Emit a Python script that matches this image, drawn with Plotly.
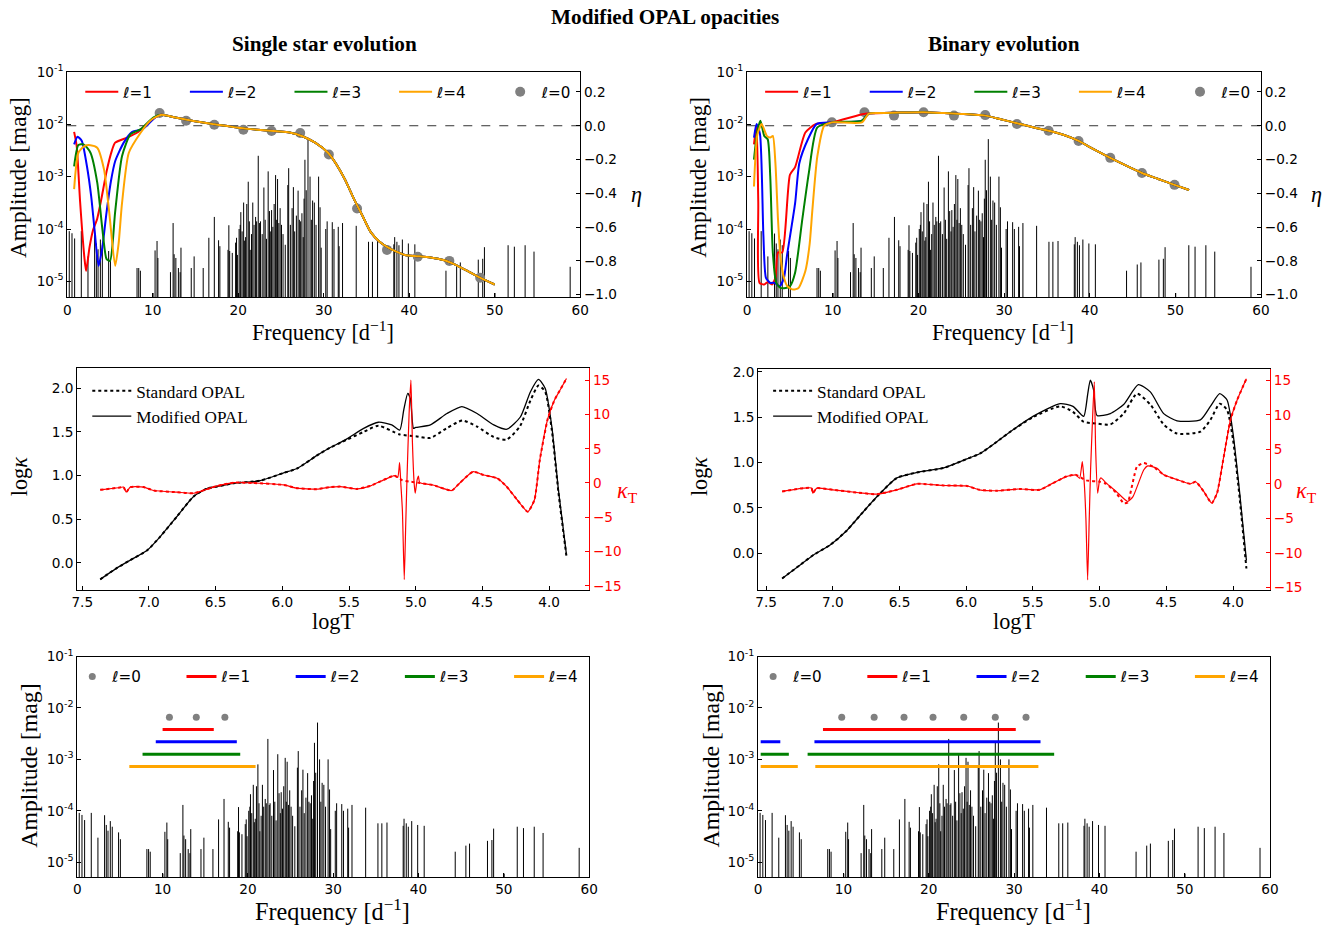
import plotly.graph_objects as go

W, H = 1336, 928

# ---------------- observed spectrum (shared by the four spectrum panels) -------------
obs_freq = [0.23, 0.55, 0.86, 1.64, 2.42, 3.20, 3.40, 3.60, 3.87, 4.10,
            4.84, 5.05, 8.16, 8.36, 8.55, 10.04, 10.27, 10.50, 10.60, 12.07,
            12.38, 12.50, 12.70, 13.00, 13.20, 13.30, 14.50, 14.84, 15.90, 16.56,
            17.20, 17.70, 17.85, 18.80, 18.90, 19.00, 19.30, 19.69, 19.80, 19.90,
            20.10, 20.23, 20.30, 20.45, 20.63, 20.75, 20.86, 21.00, 21.17, 21.30,
            21.40, 21.55, 21.70, 21.85, 22.03, 22.15, 22.34, 22.50, 22.60, 22.80,
            23.00, 23.15, 23.30, 23.50, 23.65, 23.80, 23.90, 24.05, 24.20, 24.37,
            24.50, 24.60, 24.75, 24.90, 25.06, 25.24, 25.50, 25.80, 25.90, 26.10,
            26.30, 26.45, 26.60, 26.80, 27.00, 27.15, 27.30, 27.45, 27.60, 27.70,
            27.80, 27.95, 28.16, 28.40, 28.55, 28.70, 28.90, 29.10, 29.40, 29.57,
            29.70, 30.24, 30.40, 31.00, 31.20, 31.70, 31.80, 32.20, 33.80, 35.24,
            35.70, 36.30, 38.20, 38.30, 38.56, 38.80, 39.20, 39.90, 40.66, 44.30,
            45.55, 45.98, 48.08, 48.60, 48.80, 50.04, 51.57, 52.30, 53.56, 54.60,
            58.83]
obs_amp = [9.1e-5, 8.3e-5, 6.6e-5, 9.1e-5, 3.0e-5, 8.2e-5, 5.3e-5, 4.1e-5, 6.3e-5, 4.9e-5,
           3.8e-5, 2.8e-5, 1.8e-5, 1.8e-5, 1.6e-5, 6.0e-6, 3.9e-5, 5.9e-5, 2.8e-5, 1.5e-5,
           1.3e-4, 3.3e-5, 2.8e-5, 1.8e-5, 1.5e-5, 4.4e-5, 1.8e-5, 3.0e-5, 1.8e-5, 6.8e-5,
           1.7e-4, 6.1e-5, 4.7e-5, 4.0e-5, 1.18e-4, 3.8e-5, 3.5e-5, 5.5e-5, 6.8e-5, 3.2e-5,
           1.0e-4, 1.2e-4, 2.1e-4, 9.0e-5, 3.2e-4, 6.0e-5, 7.0e-5, 3.0e-4, 8.0e-4, 1.4e-4,
           4.0e-5, 8.0e-5, 3.2e-4, 1.2e-4, 1.7e-4, 1.4e-4, 2.5e-3, 1.3e-4, 1.4e-4, 8.0e-5,
           6.2e-4, 1.5e-4, 6.5e-5, 1.26e-3, 2.2e-4, 9.0e-5, 2.3e-4, 1.1e-4, 3.0e-4, 1.07e-3,
           1.5e-4, 9.0e-4, 1.3e-4, 2.5e-4, 1.2e-4, 8.0e-5, 5.0e-5, 6.9e-4, 1.45e-3, 1.2e-4,
           2.5e-4, 6.3e-4, 9.0e-5, 1.8e-4, 5.4e-4, 1.5e-4, 1.4e-4, 2.0e-4, 7.0e-5, 3.8e-4,
           2.1e-3, 5.5e-4, 5.2e-3, 1.0e-3, 1.5e-4, 3.5e-4, 3.2e-4, 1.2e-4, 1.0e-3, 2.6e-4,
           4.4e-5, 1.0e-4, 1.4e-4, 1.35e-4, 1.0e-4, 1.1e-4, 4.7e-5, 1.3e-4, 1.15e-4, 5.7e-5,
           5.7e-5, 5.9e-5, 5.1e-5, 7.0e-5, 5.7e-5, 4.9e-5, 6.3e-5, 5.3e-5, 5.1e-5, 1.6e-5,
           2.1e-5, 2.3e-5, 2.6e-5, 2.7e-5, 4.5e-5, 6.0e-6, 4.9e-5, 4.6e-5, 4.9e-5, 3.7e-5,
           1.9e-5]

# ---------------- single star: growth rate eta ----------------
s_l0_freq = [10.8, 13.9, 17.2, 20.6, 23.9, 27.25, 30.6, 33.9, 37.4, 41.0, 44.7, 48.3]
s_l0_eta = [0.075, 0.03, 0.006, -0.024, -0.031, -0.043, -0.17, -0.49, -0.735, -0.775, -0.80, -0.90]

s_tail_freq = [11.0, 12.5, 14.0, 15.5, 17.0, 18.5, 20.0, 21.5, 23.0, 24.5, 26.0, 27.5, 29.0,
               30.5, 31.5, 32.5, 33.5, 34.5, 35.5, 36.5, 37.5, 38.5, 39.5, 41.0, 42.5, 44.0,
               45.5, 47.0, 48.5, 50.0]
s_tail_eta = [0.065, 0.05, 0.035, 0.022, 0.01, 0.0, -0.012, -0.02, -0.027, -0.033, -0.04,
              -0.062, -0.1, -0.16, -0.23, -0.32, -0.43, -0.53, -0.63, -0.685, -0.72, -0.745,
              -0.765, -0.772, -0.78, -0.795, -0.825, -0.865, -0.905, -0.94]

s_l1_freq = [0.8, 1.1, 1.5, 2.0, 2.2, 2.6, 3.0, 3.5, 4.0, 4.6, 5.2, 5.6, 7.0, 8.2, 9.3, 10.3]
s_l1_eta = [-0.036, -0.12, -0.45, -0.78, -0.86, -0.72, -0.62, -0.55, -0.43, -0.27, -0.15,
            -0.10, -0.07, -0.04, 0.01, 0.05]
s_l2_freq = [0.8, 1.2, 1.7, 2.3, 2.8, 3.2, 3.66, 4.1, 4.6, 5.1, 5.6, 6.6, 7.6, 8.8, 10.3]
s_l2_eta = [-0.11, -0.065, -0.09, -0.24, -0.42, -0.62, -0.83, -0.72, -0.51, -0.33, -0.21,
            -0.10, -0.036, -0.02, 0.05]
s_l3_freq = [0.8, 1.3, 1.9, 2.7, 3.5, 4.1, 4.6, 5.0, 5.6, 6.4, 7.4, 8.6, 10.1]
s_l3_eta = [-0.24, -0.114, -0.11, -0.158, -0.335, -0.61, -0.79, -0.80, -0.51, -0.18, -0.05,
            -0.02, 0.05]
s_l4_freq = [0.8, 1.3, 2.0, 2.7, 3.5, 4.3, 4.9, 5.6, 6.0, 6.4, 7.2, 8.6, 9.7]
s_l4_eta = [-0.375, -0.16, -0.12, -0.115, -0.13, -0.26, -0.51, -0.83, -0.70, -0.46, -0.16,
            -0.04, 0.03]

# ---------------- binary: growth rate eta ----------------
b_l0_freq = [9.9, 13.7, 17.15, 20.6, 24.15, 27.8, 31.5, 35.2, 38.7, 42.4, 46.1, 49.9]
b_l0_eta = [0.02, 0.08, 0.06, 0.08, 0.06, 0.063, 0.01, -0.03, -0.09, -0.19, -0.28, -0.35]

b_tail_freq = [14.2, 16.0, 18.0, 20.6, 23.0, 25.0, 27.8, 29.5, 31.5, 33.5, 35.2, 37.0, 38.7,
               40.5, 42.4, 44.2, 46.1, 48.0, 49.9, 51.6]
b_tail_eta = [0.072, 0.075, 0.078, 0.08, 0.075, 0.07, 0.06, 0.04, 0.015, -0.01, -0.03, -0.055,
              -0.09, -0.14, -0.19, -0.235, -0.28, -0.315, -0.35, -0.38]

b_l1_freq = [0.8, 1.1, 1.3, 1.45, 2.0, 2.4, 2.9, 3.3, 3.6, 4.1, 5.0, 5.6, 6.8, 8.0, 9.9, 13.6]
b_l1_eta = [-0.11, 0.0, -0.45, -0.93, -0.94, -0.925, -0.94, -0.90, -0.75, -0.75, -0.29, -0.245,
            -0.04, 0.01, 0.02, 0.07]
b_l2_freq = [0.8, 1.1, 1.5, 1.9, 2.2, 2.7, 3.2, 3.8, 4.3, 4.65, 5.6, 6.1, 7.1, 8.1, 9.9, 13.4]
b_l2_eta = [-0.07, 0.01, -0.05, -0.65, -0.90, -0.93, -0.93, -0.95, -0.90, -0.77, -0.46, -0.22,
            -0.08, 0.01, 0.02, 0.03]
b_l3_freq = [0.8, 1.2, 1.55, 2.0, 2.4, 2.7, 3.0, 3.4, 3.9, 4.5, 5.0, 5.6, 6.4, 7.2, 8.2, 9.9, 13.4]
b_l3_eta = [-0.2, -0.03, 0.03, -0.06, -0.08, -0.3, -0.75, -0.93, -0.96, -0.96, -0.95, -0.87,
            -0.57, -0.28, -0.01, 0.02, 0.03]
b_l4_freq = [0.8, 1.2, 1.7, 2.3, 2.7, 3.0, 3.3, 3.6, 3.9, 4.3, 4.7, 5.4, 6.0, 6.8, 7.3, 7.6,
             8.2, 9.0, 9.9, 13.4]
b_l4_eta = [-0.36, -0.05, 0.01, -0.06, -0.07, -0.06, -0.22, -0.55, -0.78, -0.90, -0.95, -0.97,
            -0.96, -0.86, -0.70, -0.51, -0.18, 0.0, 0.02, 0.02]

# ---------------- opacity profiles: single star ----------------
s_logT_mod = [7.365, 7.25, 7.14, 7.015, 6.915, 6.79, 6.665, 6.565, 6.5, 6.366, 6.166, 5.99,
              5.89, 5.74, 5.64, 5.516, 5.39, 5.28, 5.18, 5.12, 5.09, 5.06, 5.04, 5.017, 5.0,
              4.89, 4.766, 4.654, 4.54, 4.415, 4.316, 4.216, 4.14, 4.08, 4.03, 3.98, 3.93, 3.87]
s_logk_mod = [-0.19, -0.07, 0.03, 0.14, 0.30, 0.53, 0.76, 0.85, 0.87, 0.91, 0.94, 1.03, 1.08,
              1.23, 1.32, 1.42, 1.54, 1.61, 1.58, 1.52, 1.75, 1.94, 1.88, 1.54, 1.55, 1.58, 1.71,
              1.79, 1.71, 1.58, 1.53, 1.67, 1.96, 2.10, 2.0, 1.56, 0.83, 0.09]
s_logT_std = [7.365, 7.25, 7.14, 7.015, 6.915, 6.79, 6.665, 6.565, 6.5, 6.366, 6.166, 5.99,
              5.89, 5.74, 5.64, 5.516, 5.39, 5.28, 5.12, 5.0, 4.89, 4.77, 4.65, 4.54, 4.415,
              4.32, 4.22, 4.14, 4.08, 4.03, 3.98, 3.93, 3.87]
s_logk_std = [-0.19, -0.07, 0.03, 0.14, 0.30, 0.53, 0.76, 0.85, 0.87, 0.91, 0.94, 1.03, 1.08,
              1.23, 1.32, 1.41, 1.50, 1.57, 1.47, 1.45, 1.43, 1.54, 1.63, 1.56, 1.44, 1.41, 1.56,
              1.86, 2.03, 1.96, 1.52, 0.80, 0.07]
s_kT_logT_mod = [7.365, 7.23, 7.19, 7.17, 7.14, 7.04, 6.965, 6.79, 6.665, 6.5, 6.366, 6.216,
                 5.99, 5.89, 5.74, 5.64, 5.566, 5.44, 5.34, 5.24, 5.16, 5.135, 5.121, 5.112,
                 5.10, 5.086, 5.075, 5.065, 5.05, 5.036, 5.025, 5.012, 5.004, 4.99, 4.98, 4.97,
                 4.87, 4.73, 4.67, 4.57, 4.49, 4.39, 4.32, 4.24, 4.16, 4.11, 4.07, 4.01, 3.96,
                 3.92, 3.87]
s_kT_mod = [-1.0, -0.7, -0.6, -1.35, -0.6, -0.6, -1.1, -1.35, -1.5, -0.5, 0.05, 0.0, -0.28,
            -0.76, -0.9, -0.6, -0.53, -0.87, -0.43, 0.45, 1.07, 0.8, 2.96, 0.0, -4.0, -14.1,
            -6.0, 1.0, 10.0, 15.0, 6.0, 0.0, -1.5, 0.4, 1.0, 0.05, -0.3, -1.1, 0.0, 1.65, 1.16,
            0.7, -0.5, -2.45, -4.2, -2.45, 3.35, 9.4, 12.1, 13.5, 15.25]
s_kT_logT_std = [7.365, 7.23, 7.19, 7.17, 7.14, 7.04, 6.965, 6.79, 6.665, 6.5, 6.366, 6.216,
                 5.99, 5.89, 5.74, 5.64, 5.566, 5.44, 5.34, 5.24, 5.16, 5.10, 5.05, 5.0, 4.97,
                 4.87, 4.73, 4.67, 4.57, 4.49, 4.39, 4.32, 4.24, 4.16, 4.11, 4.07, 4.01, 3.96,
                 3.92, 3.87]
s_kT_std = [-1.0, -0.7, -0.6, -1.35, -0.6, -0.6, -1.1, -1.35, -1.5, -0.5, 0.05, 0.0, -0.28,
            -0.76, -0.9, -0.6, -0.53, -0.87, -0.43, 0.45, 1.07, 0.4, 0.2, 0.1, 0.0, -0.3, -1.1,
            0.0, 1.65, 1.16, 0.7, -0.5, -2.45, -4.2, -2.45, 3.35, 9.4, 12.1, 13.5, 15.25]

# ---------------- opacity profiles: binary ----------------
b_logT_mod = [7.38, 7.245, 7.145, 7.02, 6.895, 6.77, 6.645, 6.52, 6.37, 6.17, 5.995, 5.896,
              5.77, 5.67, 5.5, 5.296, 5.2, 5.12, 5.09, 5.07, 5.045, 5.02, 4.92, 4.82, 4.71,
              4.62, 4.52, 4.42, 4.245, 4.17, 4.10, 4.045, 4.0, 3.95, 3.9]
b_logk_mod = [-0.28, -0.13, -0.02, 0.09, 0.25, 0.46, 0.66, 0.83, 0.89, 0.94, 1.04, 1.10, 1.23,
              1.34, 1.51, 1.65, 1.62, 1.51, 1.75, 1.91, 1.80, 1.52, 1.54, 1.64, 1.86, 1.78, 1.54,
              1.46, 1.47, 1.62, 1.76, 1.69, 1.32, 0.66, -0.08]
b_logT_std = [7.38, 7.245, 7.145, 7.02, 6.895, 6.77, 6.645, 6.52, 6.37, 6.17, 5.995, 5.896,
              5.77, 5.67, 5.5, 5.296, 5.2, 5.12, 5.02, 4.92, 4.82, 4.72, 4.62, 4.52, 4.42,
              4.245, 4.17, 4.10, 4.045, 4.0, 3.95, 3.9]
b_logk_std = [-0.28, -0.13, -0.02, 0.09, 0.25, 0.46, 0.66, 0.83, 0.89, 0.94, 1.04, 1.10, 1.23,
              1.34, 1.50, 1.62, 1.56, 1.45, 1.43, 1.42, 1.54, 1.76, 1.64, 1.42, 1.32, 1.34, 1.47,
              1.65, 1.58, 1.25, 0.60, -0.17]
b_kT_logT_mod = [7.38, 7.22, 7.16, 7.15, 7.12, 7.0, 6.82, 6.67, 6.52, 6.37, 6.17, 5.995, 5.9,
                 5.77, 5.6, 5.45, 5.35, 5.25, 5.18, 5.15, 5.13, 5.115, 5.103, 5.09, 5.078, 5.068,
                 5.052, 5.04, 5.03, 5.015, 5.0, 4.99, 4.95, 4.876, 4.79, 4.75, 4.67, 4.64, 4.57,
                 4.52, 4.42, 4.32, 4.28, 4.22, 4.16, 4.12, 4.07, 4.02, 3.97, 3.9]
b_kT_mod = [-1.1, -0.63, -0.6, -1.35, -0.63, -0.87, -1.26, -1.5, -0.87, 0.0, -0.24, -0.3, -0.87,
            -1.0, -0.75, -0.87, 0.1, 1.05, 1.3, 0.8, 3.2, 0.0, -5.0, -13.9, -5.0, 2.0, 10.0,
            14.75, 5.0, -1.35, 0.6, 0.85, 0.1, -1.1, -2.56, -1.85, 2.0, 2.6, 2.25, 1.3, 0.6,
            0.0, 0.3, -1.1, -2.8, -1.35, 3.9, 9.2, 12.1, 15.2]
b_kT_logT_std = [7.38, 7.22, 7.16, 7.15, 7.12, 7.0, 6.82, 6.67, 6.52, 6.37, 6.17, 5.995, 5.9,
                 5.77, 5.6, 5.45, 5.35, 5.25, 5.18, 5.1, 5.0, 4.95, 4.876, 4.82, 4.79, 4.72,
                 4.67, 4.6, 4.52, 4.42, 4.32, 4.28, 4.22, 4.16, 4.12, 4.07, 4.02, 3.97, 3.9]
b_kT_std = [-1.1, -0.63, -0.6, -1.35, -0.63, -0.87, -1.26, -1.5, -0.87, 0.0, -0.24, -0.3, -0.87,
            -1.0, -0.75, -0.87, 0.1, 1.05, 1.3, 0.5, 0.3, 0.0, -1.3, -2.8, -2.7, 2.5, 3.0, 2.5,
            1.3, 0.6, 0.0, 0.3, -1.1, -2.8, -1.35, 3.9, 9.2, 12.1, 15.2]

# ---------------- unstable frequency ranges (bottom panels) ----------------
s_unst_l0 = [10.8, 13.95, 17.3]
s_ranges = {1: [(10.0, 16.0)], 2: [(9.2, 18.7)], 3: [(7.65, 19.1)], 4: [(6.1, 20.9)]}
b_unst_l0 = [9.8, 13.6, 17.1, 20.5, 24.1, 27.8, 31.4]
b_ranges = {1: [(7.6, 30.2)], 2: [(0.3, 2.6), (6.6, 33.1)], 3: [(0.3, 3.6), (5.8, 34.7)],
            4: [(0.3, 4.65), (6.7, 32.85)]}
level_l0 = 6.6e-3
levels = {1: 3.8e-3, 2: 2.2e-3, 3: 1.26e-3, 4: 7.3e-4}

colors = {1: '#ff0000', 2: '#0000ff', 3: '#008000', 4: '#ffa500'}
GREY = '#808080'
SANS = 'DejaVu Sans'
SERIF = 'Liberation Serif'

# page-placement correction (the captured page is slightly scaled and offset)
SX, OX = 0.989, 5.7
SY, OY = 0.986, 9.0
FS = 1.0 / SX


def X(p):
    return (p - OX) / SX


def Y(p):
    return (p - OY) / SY


TICKFONT = dict(family=SANS, size=13.5 * FS, color='black')


def stems(freqs, amps):
    xs, ys = [], []
    for f, a in zip(freqs, amps):
        xs += [f, f, None]
        ys += [1e-9, a, None]
    return xs, ys


fig = go.Figure()
sx, sy = stems(obs_freq, obs_amp)

# ---------- top panels ----------
for (xa, ya, ya2, lg, l0f, l0e, curves, tailf, taile) in [
    ('x', 'y', 'y2', 'legend', s_l0_freq, s_l0_eta,
     {1: (s_l1_freq, s_l1_eta), 2: (s_l2_freq, s_l2_eta), 3: (s_l3_freq, s_l3_eta),
      4: (s_l4_freq, s_l4_eta)}, s_tail_freq, s_tail_eta),
    ('x2', 'y3', 'y4', 'legend2', b_l0_freq, b_l0_eta,
     {1: (b_l1_freq, b_l1_eta), 2: (b_l2_freq, b_l2_eta), 3: (b_l3_freq, b_l3_eta),
      4: (b_l4_freq, b_l4_eta)}, b_tail_freq, b_tail_eta)]:
    fig.add_trace(go.Scatter(x=sx, y=sy, mode='lines', xaxis=xa, yaxis=ya,
                             line=dict(color='black', width=1), showlegend=False,
                             hoverinfo='skip'))
    fig.add_trace(go.Scatter(x=l0f, y=l0e, mode='markers', xaxis=xa, yaxis=ya2,
                             marker=dict(color=GREY, size=10), name='ℓ=0',
                             legend=lg, legendrank=1005))
    for l in (1, 2, 3, 4):
        f, e = curves[l]
        fig.add_trace(go.Scatter(x=f + tailf, y=e + taile, mode='lines', xaxis=xa, yaxis=ya2,
                                 line=dict(color=colors[l], width=2, shape='spline',
                                           smoothing=0.6),
                                 name='ℓ=%d' % l, legend=lg, legendrank=1000 + l))

# ---------- middle panels ----------
for (xa, ya, ya2, lg, Tm, km, Ts, ks, kTm_T, kTm, kTs_T, kTs) in [
    ('x3', 'y5', 'y6', 'legend3', s_logT_mod, s_logk_mod, s_logT_std, s_logk_std,
     s_kT_logT_mod, s_kT_mod, s_kT_logT_std, s_kT_std),
    ('x4', 'y7', 'y8', 'legend4', b_logT_mod, b_logk_mod, b_logT_std, b_logk_std,
     b_kT_logT_mod, b_kT_mod, b_kT_logT_std, b_kT_std)]:
    fig.add_trace(go.Scatter(x=Ts, y=ks, mode='lines', xaxis=xa, yaxis=ya,
                             line=dict(color='black', width=2, dash='dot', shape='spline',
                                       smoothing=0.6),
                             name='Standard OPAL', legend=lg))
    fig.add_trace(go.Scatter(x=Tm, y=km, mode='lines', xaxis=xa, yaxis=ya,
                             line=dict(color='black', width=1.3, shape='spline', smoothing=0.6),
                             name='Modified OPAL', legend=lg))
    fig.add_trace(go.Scatter(x=kTs_T, y=kTs, mode='lines', xaxis=xa, yaxis=ya2,
                             line=dict(color='red', width=2, dash='dot', shape='spline',
                                       smoothing=0.5),
                             showlegend=False))
    fig.add_trace(go.Scatter(x=kTm_T, y=kTm, mode='lines', xaxis=xa, yaxis=ya2,
                             line=dict(color='red', width=1.2, shape='spline', smoothing=0.5),
                             showlegend=False))

# ---------- bottom panels ----------
for (xa, ya, lg, l0, rng) in [('x5', 'y9', 'legend5', s_unst_l0, s_ranges),
                              ('x6', 'y10', 'legend6', b_unst_l0, b_ranges)]:
    fig.add_trace(go.Scatter(x=sx, y=sy, mode='lines', xaxis=xa, yaxis=ya,
                             line=dict(color='black', width=1), showlegend=False,
                             hoverinfo='skip'))
    fig.add_trace(go.Scatter(x=l0, y=[level_l0] * len(l0), mode='markers', xaxis=xa, yaxis=ya,
                             marker=dict(color=GREY, size=7), name='ℓ=0', legend=lg))
    for l in (1, 2, 3, 4):
        xs, ys = [], []
        for a, b in rng[l]:
            xs += [a, b, None]
            ys += [levels[l], levels[l], None]
        fig.add_trace(go.Scatter(x=xs, y=ys, mode='lines', xaxis=xa, yaxis=ya,
                                 line=dict(color=colors[l], width=3),
                                 name='ℓ=%d' % l, legend=lg))


# ---------- axes ----------
def dom_x(a, b):
    return [X(a) / W, X(b) / W]


def dom_y(top, bottom):
    return [1 - Y(bottom) / H, 1 - Y(top) / H]


common = dict(showline=True, linecolor='black', linewidth=1, ticks='inside', ticklen=4,
              tickcolor='black', tickfont=TICKFONT, showgrid=False, zeroline=False)

logticks = [1e-5, 1e-4, 1e-3, 1e-2, 1e-1]
logtext = ['10<sup>-5</sup>', '10<sup>-4</sup>', '10<sup>-3</sup>', '10<sup>-2</sup>',
           '10<sup>-1</sup>']
freqticks = [0, 10, 20, 30, 40, 50, 60]
eta_ticks = [-1.0, -0.8, -0.6, -0.4, -0.2, 0.0, 0.2]
T_ticks = [7.5, 7.0, 6.5, 6.0, 5.5, 5.0, 4.5, 4.0]
k_ticks = [0.0, 0.5, 1.0, 1.5, 2.0]
kT_ticks = [-15, -10, -5, 0, 5, 10, 15]

red_axis = dict(common, linecolor='red', tickcolor='red',
                tickfont=dict(family=SANS, size=13.5 * FS, color='red'))

fig.update_layout(
    width=W, height=H, margin=dict(l=0, r=0, t=0, b=0),
    paper_bgcolor='white', plot_bgcolor='white',
    # top-left
    xaxis=dict(common, domain=dom_x(67, 580), range=[0, 60], anchor='y', mirror=True,
               tickvals=freqticks),
    yaxis=dict(common, domain=dom_y(71, 297), type='log', range=[-5.305, -1], anchor='x',
               tickvals=logticks, ticktext=logtext),
    yaxis2=dict(common, overlaying='y', side='right', anchor='x', range=[-1.016, 0.319],
                tickvals=eta_ticks, tickformat='.1f'),
    # top-right
    xaxis2=dict(common, domain=dom_x(747, 1261), range=[0, 60], anchor='y3', mirror=True,
                tickvals=freqticks),
    yaxis3=dict(common, domain=dom_y(71, 297), type='log', range=[-5.305, -1], anchor='x2',
                tickvals=logticks, ticktext=logtext),
    yaxis4=dict(common, overlaying='y3', side='right', anchor='x2', range=[-1.016, 0.319],
                tickvals=eta_ticks, tickformat='.1f'),
    # middle-left
    xaxis3=dict(common, domain=dom_x(77, 589), range=[7.537, 3.70], anchor='y5', mirror=True,
                tickvals=T_ticks, tickformat='.1f'),
    yaxis5=dict(common, domain=dom_y(368, 590), range=[-0.309, 2.229], anchor='x3',
                tickvals=k_ticks, tickformat='.1f'),
    yaxis6=dict(red_axis, overlaying='y5', side='right', anchor='x3', range=[-15.58, 16.75],
                tickvals=kT_ticks),
    # middle-right
    xaxis4=dict(common, domain=dom_x(758, 1270), range=[7.56, 3.723], anchor='y7', mirror=True,
                tickvals=T_ticks, tickformat='.1f'),
    yaxis7=dict(common, domain=dom_y(369, 590), range=[-0.404, 2.03], anchor='x4',
                tickvals=k_ticks, tickformat='.1f'),
    yaxis8=dict(red_axis, overlaying='y7', side='right', anchor='x4', range=[-15.33, 16.59],
                tickvals=kT_ticks),
    # bottom-left
    xaxis5=dict(common, domain=dom_x(77, 589), range=[0, 60], anchor='y9', mirror=True,
                tickvals=freqticks),
    yaxis9=dict(common, domain=dom_y(657, 878), type='log', range=[-5.29, -1], anchor='x5',
                mirror=True, tickvals=logticks, ticktext=logtext),
    # bottom-right
    xaxis6=dict(common, domain=dom_x(758, 1270), range=[0, 60], anchor='y10', mirror=True,
                tickvals=freqticks),
    yaxis10=dict(common, domain=dom_y(657, 878), type='log', range=[-5.29, -1], anchor='x6',
                 mirror=True, tickvals=logticks, ticktext=logtext),
    showlegend=True,
)

leg_h = dict(orientation='h', xanchor='left', yanchor='middle', bgcolor='rgba(0,0,0,0)',
             font=dict(family=SANS, size=15 * FS, color='black'), entrywidthmode='pixels',
             traceorder='normal', itemclick=False, itemdoubleclick=False)
leg_v = dict(orientation='v', xanchor='left', yanchor='top', bgcolor='rgba(0,0,0,0)',
             font=dict(family=SERIF, size=17 * FS, color='black'), itemwidth=39,
             traceorder='normal', itemclick=False, itemdoubleclick=False)
fig.update_layout(
    legend=dict(leg_h, x=X(80) / W, y=1 - Y(91) / H, itemwidth=33, entrywidth=56.6),
    legend2=dict(leg_h, x=X(760) / W, y=1 - Y(91) / H, itemwidth=33, entrywidth=56.6),
    legend3=dict(leg_v, x=X(87) / W, y=1 - Y(373) / H),
    legend4=dict(leg_v, x=X(768) / W, y=1 - Y(373) / H),
    legend5=dict(leg_h, x=X(72) / W, y=1 - Y(677) / H, entrywidth=64.2),
    legend6=dict(leg_h, x=X(753) / W, y=1 - Y(677) / H, entrywidth=64.2),
)

# zero-growth reference line in the top panels
for ya, xa in (('y2', 'x'), ('y4', 'x2')):
    fig.add_shape(type='line', xref=xa + ' domain', x0=0, x1=1, yref=ya, y0=0, y1=0,
                  line=dict(color='#333333', width=1, dash='dash'), layer='below')


# ---------- titles / labels ----------
def ann(text, x, y, size, angle=0, color='black', family=SERIF, bold=False):
    if bold:
        text = '<b>%s</b>' % text
    fig.add_annotation(text=text, x=X(x) / W, y=1 - Y(y) / H, xref='paper', yref='paper',
                       xanchor='center', yanchor='middle', showarrow=False, textangle=angle,
                       font=dict(family=family, size=size * FS, color=color))


ann('Modified OPAL opacities', 665, 16, 21, bold=True)
ann('Single star evolution', 324, 43, 21, bold=True)
ann('Binary evolution', 1004, 43, 21, bold=True)

freq_label = 'Frequency [d<sup>−1</sup>]'
amp_label = 'Amplitude [mag]'
ann(amp_label, 17, 177, 23, angle=-90)
ann(amp_label, 697, 177, 23, angle=-90)
ann(freq_label, 323, 331, 22)
ann(freq_label, 1003, 331, 22)
ann('<i>η</i>', 636, 194, 22)
ann('<i>η</i>', 1317, 194, 22)

ann('log<i>κ</i>', 20, 477, 22, angle=-90)
ann('log<i>κ</i>', 700, 477, 22, angle=-90)
ann('logT', 333, 622, 22)
ann('logT', 1014, 622, 22)
ann('<i>κ</i><sub>T</sub>', 627, 492, 22, color='red')
ann('<i>κ</i><sub>T</sub>', 1306, 492, 22, color='red')

ann(amp_label, 29, 766, 23.5, angle=-90)
ann(amp_label, 711, 766, 23.5, angle=-90)
ann(freq_label, 332, 911, 24)
ann(freq_label, 1013, 911, 24)

fig.write_html('out.html', config={'displayModeBar': False},
               post_script="document.body.style.margin='0px';document.body.style.padding='0px';")
